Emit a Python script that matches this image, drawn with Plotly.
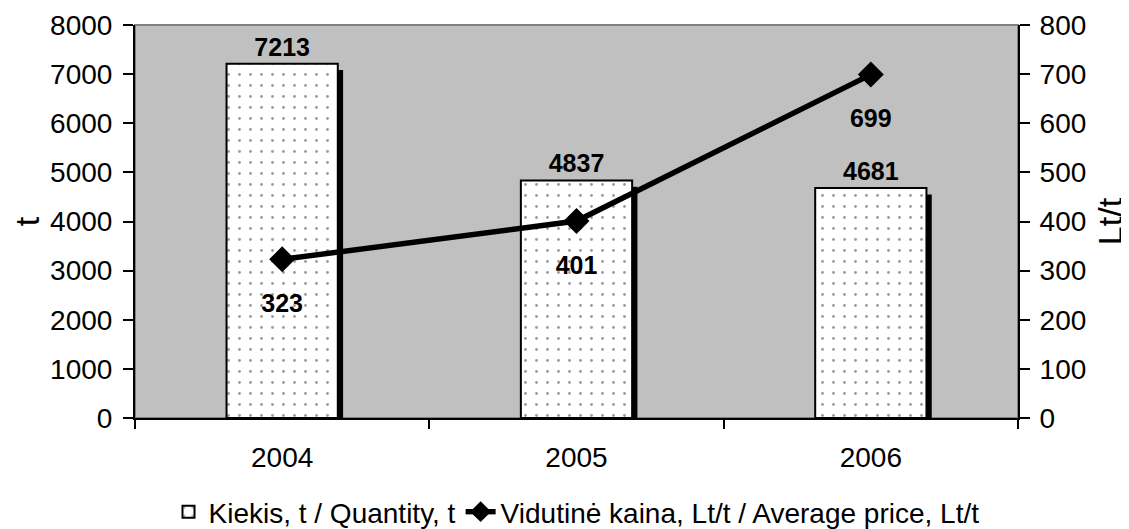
import plotly.graph_objects as go

years = ["2004", "2005", "2006"]
quantity = [7213, 4837, 4681]
price = [323, 401, 699]
qty_name = "Kiekis, t / Quantity, t"
price_name = "Vidutinė kaina, Lt/t / Average price, Lt/t"
left_ticks = [0, 1000, 2000, 3000, 4000, 5000, 6000, 7000, 8000]
right_ticks = [0, 100, 200, 300, 400, 500, 600, 700, 800]

FONT = "Liberation Sans, Arial, sans-serif"
FS = 28
LFS = 25

bar_w = 0.378
shadow_dx = 0.018
shadow_dy = 130

fig = go.Figure()
fig.add_trace(go.Bar(
    x=years, y=[q - shadow_dy for q in quantity], width=bar_w,
    offset=-bar_w / 2 + shadow_dx,
    marker=dict(color="black", line=dict(width=0)),
    showlegend=False, hoverinfo="skip"))
fig.add_trace(go.Bar(
    x=years, y=quantity, name=qty_name, width=bar_w, offset=-bar_w / 2,
    marker=dict(color="white", line=dict(color="black", width=2),
                pattern=dict(shape=".", fgcolor="#333333", bgcolor="white",
                             size=11, solidity=0.05)),
    texttemplate="<b>%{y}</b>", textposition="outside",
    textfont=dict(size=LFS, color="black", family=FONT), cliponaxis=False))
fig.add_trace(go.Scatter(
    x=years, y=price, name=price_name, yaxis="y2", mode="lines+markers",
    line=dict(color="black", width=5.5),
    marker=dict(symbol="diamond", size=20, color="black"), cliponaxis=False))
# value labels under the price markers (invisible larger marker sets the text offset)
fig.add_trace(go.Scatter(
    x=years, y=price, yaxis="y2", mode="markers+text", showlegend=False,
    hoverinfo="skip", marker=dict(size=53, opacity=0),
    texttemplate="<b>%{y}</b>", textposition="bottom center",
    textfont=dict(size=LFS, color="black", family=FONT), cliponaxis=False))

fig.add_shape(type="rect", xref="x domain", yref="y domain", x0=0, x1=1, y0=0, y1=1,
              line=dict(color="#808080", width=2), layer="below")

axis_common = dict(showgrid=False, zeroline=False, showline=True, linecolor="black",
                   linewidth=2, tickcolor="black", tickwidth=1.5, automargin=False)
inside_ticks = dict(ticks="inside", ticklen=10, showticklabels=False, showline=False,
                    showgrid=False, zeroline=False, tickcolor="black", tickwidth=1.5,
                    automargin=False)

# page body adds an 8px offset; the figure is sized to fit the 1129x529 window
fig.update_layout(
    width=1121, height=521,
    margin=dict(l=127, r=111, t=17, b=111, autoexpand=False),
    plot_bgcolor="#C0C0C0", paper_bgcolor="white",
    barmode="overlay",
    font=dict(family=FONT, size=FS, color="black"),
    showlegend=True,
    legend=dict(orientation="h", x=0.5, xanchor="center", y=-0.239, yanchor="middle",
                font=dict(size=FS), bgcolor="rgba(0,0,0,0)"),
    xaxis=dict(type="category", categoryorder="array", categoryarray=years,
               range=[-0.5, len(years) - 0.5],
               tickson="boundaries", ticks="outside", ticklen=9,
               ticklabelstandoff=13, **axis_common),
    yaxis=dict(range=[0, 8000], tickvals=left_ticks, ticks="outside", ticklen=10,
               ticklabelstandoff=5,
               title=dict(text="t", standoff=32), **axis_common),
    yaxis2=dict(overlaying="y", side="right", range=[0, 800], tickvals=right_ticks,
                ticks="outside", ticklen=10, ticklabelstandoff=4,
                title=dict(text="Lt/t", standoff=36), **axis_common),
    yaxis3=dict(overlaying="y", side="left", range=[0, 8000], tickvals=left_ticks,
                **inside_ticks),
    yaxis4=dict(overlaying="y", side="right", range=[0, 800], tickvals=right_ticks,
                **inside_ticks),
)

fig.write_html("out.html")
